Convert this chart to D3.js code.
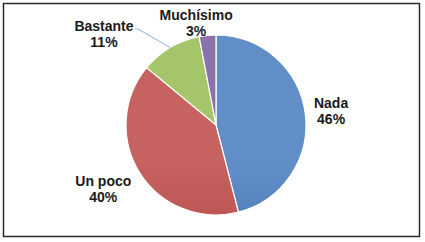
<html>
<head>
<meta charset="UTF-8">
<title>Pie</title>
<script src="https://d3js.org/d3.v7.min.js"></script>
<style>html,body{margin:0;padding:0;background:#fff;}</style>
</head>
<body>
<div id="container"></div>
<script>
const categories = ['Nada', 'Un poco', 'Bastante', 'Muchísimo']
const values = [46, 40, 11, 3]
const percentLabels = ['46%', '40%', '11%', '3%']

const colors = [
  ['#628ec8', '#3669a8'],
  ['#c6625f', '#a63f3c'],
  ['#a5c56b', '#86a846'],
  ['#8c72ad', '#69508e']
]
// label placement: [angle shift in degrees, radius]
const labelPlace = [[0, 116], [3.3, 129], [-20, 145], [-5.5, 105]]

const width = 425, height = 242
const cx = 216, cy = 125, radius = 90

const svg = d3.select('#container').append('svg')
  .attr('width', width).attr('height', height)

svg.append('rect')
  .attr('x', 3.5).attr('y', 3.5).attr('width', 416).attr('height', 233)
  .attr('fill', '#fff').attr('stroke', '#2b2b2b').attr('stroke-width', 1.5)

const defs = svg.append('defs')
colors.forEach((c, i) => {
  const g = defs.append('linearGradient')
    .attr('id', 'grad' + i)
    .attr('gradientUnits', 'userSpaceOnUse')
    .attr('x1', 0).attr('y1', cy - radius).attr('x2', 0).attr('y2', cy + radius)
  g.append('stop').attr('offset', '0%').attr('stop-color', c[0])
  g.append('stop').attr('offset', '100%').attr('stop-color', c[1])
})

const pie = d3.pie().sort(null).value(d => d)
const arcs = pie(values)
const arc = d3.arc().innerRadius(0).outerRadius(radius)

const g = svg.append('g').attr('transform', `translate(${cx},${cy})`)

g.selectAll('path')
  .data(arcs)
  .enter()
  .append('path')
  .attr('d', arc)
  .attr('fill', (d, i) => `url(#grad${i})`)
  .attr('stroke', '#fff')
  .attr('stroke-width', 1.2)

function polar(a, r) {
  return [Math.sin(a) * r, -Math.cos(a) * r]
}

// leader line for Bastante
const bi = 2
const bmid = (arcs[bi].startAngle + arcs[bi].endAngle) / 2
const p0 = polar(bmid, radius)
const la = bmid + labelPlace[bi][0] * Math.PI / 180
const lp = polar(la, labelPlace[bi][1])
g.append('polyline')
  .attr('points', [p0, [lp[0] + 34, lp[1] - 4], [lp[0] + 31, lp[1] - 4]].map(p => p.join(',')).join(' '))
  .attr('fill', 'none')
  .attr('stroke', '#8fb4dc')
  .attr('stroke-width', 1)

const labels = g.selectAll('text.lbl')
  .data(arcs)
  .enter()
  .append('text')
  .attr('class', 'lbl')
  .attr('text-anchor', 'middle')
  .attr('font-family', 'Liberation Sans, Arial, sans-serif')
  .attr('font-weight', 'bold')
  .attr('font-size', 14)
  .attr('fill', '#1a1a1a')
  .attr('transform', (d, i) => {
    const a = (d.startAngle + d.endAngle) / 2 + labelPlace[i][0] * Math.PI / 180
    const p = polar(a, labelPlace[i][1])
    return `translate(${p[0]},${p[1]})`
  })

labels.append('tspan').attr('x', 0).attr('y', -2).text((d, i) => categories[i])
labels.append('tspan').attr('x', 0).attr('y', 14).text((d, i) => percentLabels[i])
</script>
</body>
</html>
